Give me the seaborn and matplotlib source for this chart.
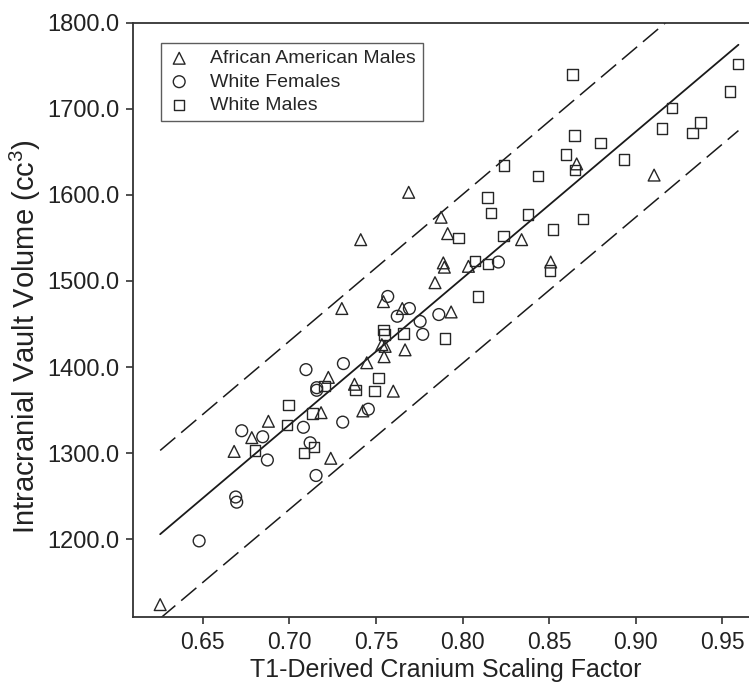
import numpy as np
import pandas as pd
import seaborn as sns
import matplotlib.pyplot as plt

# values
aam_x = [0.7689, 0.7412, 0.7876, 0.9106, 0.7914, 0.8341, 0.8659, 0.7889, 0.7895, 0.8034,
         0.8509, 0.7841, 0.7934, 0.7303, 0.7543, 0.7652, 0.7534, 0.7553, 0.7668, 0.7547,
         0.7447, 0.7225, 0.7376, 0.7600, 0.7183, 0.7424, 0.6879, 0.6783, 0.6681, 0.7239, 0.6254]
aam_y = [1603, 1548, 1574, 1623, 1555, 1548, 1636, 1521, 1516, 1517,
         1522, 1498, 1464, 1468, 1476, 1468, 1426, 1424, 1420, 1412,
         1405, 1388, 1380, 1372, 1347, 1349, 1337, 1318, 1302, 1294, 1124]

wf_x = [0.7568, 0.7693, 0.7623, 0.7755, 0.7863, 0.7770, 0.8207, 0.7312, 0.7096, 0.7158, 0.7158,
        0.7456, 0.7081, 0.7308, 0.6725, 0.6846, 0.6873, 0.7120, 0.7154, 0.6690, 0.6696, 0.6479]
wf_y = [1482, 1468, 1459, 1453, 1461, 1438, 1522, 1404, 1397, 1376, 1373,
        1351, 1330, 1336, 1326, 1319, 1292, 1312, 1274, 1249, 1243, 1198]

wm_x = [0.8634, 0.9589, 0.9546, 0.9208, 0.9373, 0.9150, 0.9327, 0.8646, 0.8796, 0.8596,
        0.8933, 0.8648, 0.8240, 0.8434, 0.8143, 0.8166, 0.8378, 0.8694, 0.8521, 0.8236,
        0.7977, 0.8072, 0.8147, 0.8505, 0.8088, 0.7899, 0.7543, 0.7549, 0.7658, 0.7514,
        0.7202, 0.7381, 0.7491, 0.6994, 0.7133, 0.6985, 0.7144, 0.7085, 0.6802]
wm_y = [1740, 1752, 1720, 1701, 1684, 1677, 1672, 1669, 1660, 1647,
        1641, 1629, 1634, 1622, 1597, 1579, 1577, 1572, 1560, 1552,
        1550, 1523, 1520, 1512, 1482, 1433, 1443, 1438, 1439, 1387,
        1378, 1373, 1372, 1356, 1346, 1333, 1307, 1300, 1303]

# regression line and prediction limits (end points)
line_x = [0.6254, 0.9593]
fit_y = [1205.8, 1774.4]
upper_y = [1303.1, 1871.7]
lower_y = [1108.0, 1674.7]

groups = ['African American Males', 'White Females', 'White Males']
markers = {'African American Males': '^', 'White Females': 'o', 'White Males': 's'}
sizes = {'African American Males': 72, 'White Females': 72, 'White Males': 56}

df = pd.concat([
    pd.DataFrame({'x': aam_x, 'y': aam_y, 'group': groups[0]}),
    pd.DataFrame({'x': wf_x, 'y': wf_y, 'group': groups[1]}),
    pd.DataFrame({'x': wm_x, 'y': wm_y, 'group': groups[2]}),
])

sns.set_style('ticks')
plt.rcParams['font.family'] = ['Liberation Sans', 'DejaVu Sans']
plt.rcParams['mathtext.default'] = 'regular'
ink = '#262626'

fig = plt.figure(figsize=(7.49, 6.89), dpi=100)
ax = fig.add_axes([0.178, 0.105, 0.822, 0.862])

for g in groups:
    sub = df[df['group'] == g]
    sns.scatterplot(data=sub, x='x', y='y', marker=markers[g], s=sizes[g],
                    facecolor='none', edgecolor=ink, linewidth=1.0, label=g, ax=ax, zorder=3)

ax.plot(line_x, fit_y, color='#1a1a1a', lw=1.3)
for ly in (upper_y, lower_y):
    l, = ax.plot(line_x, ly, color='#1a1a1a', lw=1.1)
    l.set_dashes((13, 5))

ax.set_xlim(0.6099, 0.9654)
ax.set_ylim(1110, 1800)
ax.set_xticks([0.65, 0.70, 0.75, 0.80, 0.85, 0.90, 0.95])
ax.set_xticklabels(['%.2f' % v for v in ax.get_xticks()])
ax.set_yticks([1200, 1300, 1400, 1500, 1600, 1700, 1800])
ax.set_yticklabels(['%.1f' % v for v in ax.get_yticks()])

for side in ['left', 'bottom', 'top']:
    ax.spines[side].set_color('#333333')
    ax.spines[side].set_linewidth(1.3)
ax.spines['right'].set_visible(False)
ax.tick_params(axis='both', direction='out', length=5, width=1.2, color='#333333',
               labelcolor='#222222', pad=5)
ax.tick_params(axis='y', labelsize=17)
ax.tick_params(axis='x', labelsize=16.5)

ax.set_xlabel('T1-Derived Cranium Scaling Factor', fontsize=18, color='#222222')
ax.set_ylabel('Intracranial Vault Volume (cc$^3$)', fontsize=21, color='#222222')
ax.xaxis.set_label_coords(0.508, -0.09)
ax.xaxis.label.set_va('center')
ax.yaxis.set_label_coords(-0.175, 0.471)
ax.yaxis.label.set_va('center')

leg = ax.legend(loc='upper left', bbox_to_anchor=(0.0445, 0.966), borderaxespad=0,
                fontsize=14, frameon=True, fancybox=False, edgecolor='#333333',
                labelspacing=0.3, handletextpad=1.0, borderpad=0.35, handlelength=1.2)
leg.get_frame().set_linewidth(1.0)

fig.savefig('out.png', dpi=100)
